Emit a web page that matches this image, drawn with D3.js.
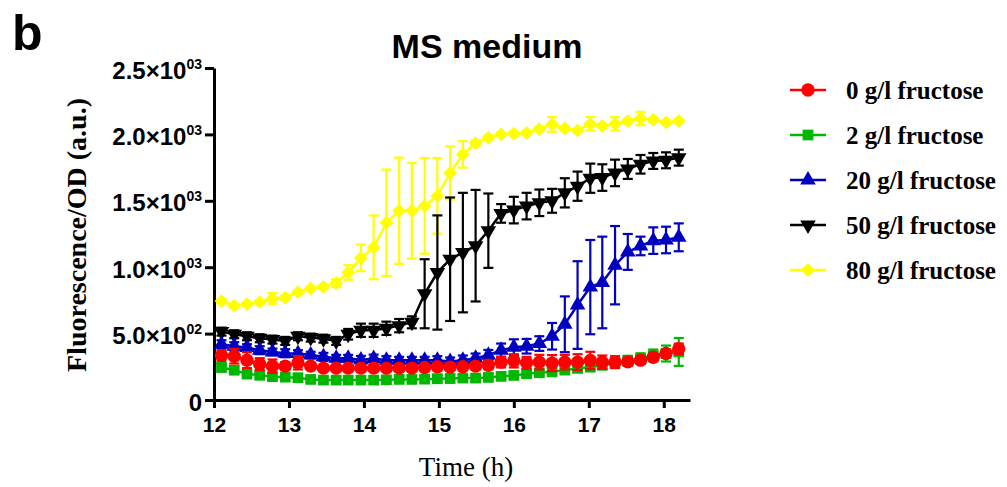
<!DOCTYPE html>
<html>
<head>
<meta charset="utf-8">
<script src="https://cdn.jsdelivr.net/npm/d3@7"></script>
<style>
  body { margin: 0; background: #fff; }
  svg { display: block; }
</style>
</head>
<body>
<div id="chart"></div>
<script>
// time points (h)
let times = [12.10, 12.27, 12.44, 12.61, 12.78, 12.95, 13.12, 13.29, 13.46, 13.63,
  13.79, 13.96, 14.13, 14.30, 14.47, 14.64, 14.81, 14.98, 15.15, 15.32,
  15.49, 15.66, 15.83, 16.00, 16.17, 16.34, 16.51, 16.68, 16.85, 17.02,
  17.18, 17.35, 17.52, 17.69, 17.86, 18.03, 18.20]

// mean fluorescence/OD per fructose level
let fructose0 = [335, 330, 300, 270, 255, 255, 280, 255, 240, 240,
  240, 240, 240, 240, 240, 240, 245, 250, 248, 250,
  255, 262, 285, 295, 280, 285, 278, 285, 285, 298,
  285, 285, 287, 300, 322, 350, 385]
let fructose2 = [245, 225, 195, 187, 176, 172, 168, 155, 150, 150,
  150, 150, 150, 152, 155, 155, 157, 160, 162, 165,
  165, 170, 178, 185, 198, 205, 212, 225, 238, 248,
  262, 277, 298, 312, 335, 350, 362]
let fructose20 = [420, 405, 395, 375, 362, 352, 350, 338, 325, 315,
  315, 302, 312, 300, 300, 300, 300, 300, 290, 300,
  315, 337, 375, 397, 405, 425, 480, 570, 715, 850,
  885, 1015, 1115, 1160, 1200, 1205, 1225]
let fructose50 = [515, 495, 480, 465, 455, 445, 480, 470, 462, 445,
  495, 525, 525, 540, 560, 585, 800, 960, 1060, 1110,
  1162, 1275, 1405, 1430, 1460, 1485, 1500, 1560, 1610, 1670,
  1675, 1710, 1740, 1775, 1800, 1805, 1825]
let fructose80 = [745, 710, 722, 737, 765, 770, 812, 840, 852, 880,
  960, 1070, 1150, 1335, 1425, 1425, 1462, 1537, 1710, 1850,
  1935, 1975, 2000, 2005, 2010, 2040, 2075, 2045, 2030, 2080,
  2065, 2080, 2100, 2120, 2110, 2090, 2100]

// error (+/-)
let err0 = [40, 55, 60, 45, 50, 30, 50, 20, 20, 20,
  20, 20, 20, 20, 20, 20, 25, 25, 20, 20,
  25, 30, 40, 50, 45, 55, 60, 55, 60, 65,
  50, 45, 30, 25, 25, 30, 40]
let err2 = [30, 30, 25, 30, 25, 25, 25, 25, 25, 25,
  25, 25, 25, 25, 25, 25, 25, 30, 30, 25,
  25, 25, 25, 25, 25, 25, 25, 25, 25, 30,
  30, 35, 35, 40, 45, 60, 105]
let err20 = [30, 30, 25, 30, 25, 30, 25, 25, 30, 25,
  25, 30, 30, 30, 25, 25, 25, 30, 30, 35,
  35, 40, 50, 60, 55, 55, 100, 210, 330, 355,
  345, 295, 135, 70, 100, 100, 105]
let err50 = [30, 30, 30, 30, 30, 30, 30, 30, 30, 30,
  40, 50, 50, 50, 50, 45, 260, 430, 465, 450,
  420, 280, 70, 100, 100, 100, 90, 110, 110, 110,
  100, 100, 75, 70, 60, 60, 60]
let err80 = [15, 15, 15, 15, 40, 15, 15, 15, 15, 30,
  55, 100, 240, 400, 400, 360, 360, 285, 200, 100,
  20, 15, 15, 15, 15, 15, 55, 15, 15, 50,
  15, 50, 15, 50, 15, 15, 15]

let seriesNames = ['0 g/l fructose', '2 g/l fructose', '20 g/l fructose', '50 g/l fructose', '80 g/l fructose']
let xTicks = [12, 13, 14, 15, 16, 17, 18]
let yTicks = [0, 500, 1000, 1500, 2000, 2500]

let series = [
  { name: seriesNames[0], values: fructose0, err: err0, color: '#ff0000', shape: 'circle' },
  { name: seriesNames[1], values: fructose2, err: err2, color: '#00b800', shape: 'square' },
  { name: seriesNames[2], values: fructose20, err: err20, color: '#0000c0', shape: 'triangle' },
  { name: seriesNames[3], values: fructose50, err: err50, color: '#000000', shape: 'triangleDown' },
  { name: seriesNames[4], values: fructose80, err: err80, color: '#ffff00', shape: 'diamond' }
]
// drawing order (back to front)
let drawOrder = [4, 3, 2, 1, 0]

let width = 1007
let height = 487
let sans = 'Liberation Sans, Arial, sans-serif'
let serif = 'Liberation Serif, Times New Roman, serif'

let svg = d3
  .select('#chart')
  .append('svg')
  .attr('width', width)
  .attr('height', height)

let xPositionScale = d3.scaleLinear().domain([12, 18.35]).range([214, 690])
let yPositionScale = d3.scaleLinear().domain([0, 2500]).range([400, 68])

function symbolPath(shape) {
  if (shape === 'circle') return d3.symbol(d3.symbolCircle, 140)()
  if (shape === 'square') return d3.symbol(d3.symbolSquare, 115)()
  if (shape === 'diamond') return d3.symbol(d3.symbolSquare, 95)()
  return d3.symbol(d3.symbolTriangle, 105)()
}
function symbolRotate(shape) {
  if (shape === 'diamond') return 45
  if (shape === 'triangleDown') return 180
  return 0
}

// axes
let xAxis = d3
  .axisBottom(xPositionScale)
  .tickValues(xTicks)
  .tickFormat(d3.format('d'))
  .tickSize(8)
  .tickSizeOuter(0)
  .tickPadding(9)
let xAxisG = svg
  .append('g')
  .attr('class', 'axis x-axis')
  .attr('transform', 'translate(0,400)')
  .call(xAxis)

let yAxis = d3.axisLeft(yPositionScale).tickValues(yTicks).tickSize(9).tickSizeOuter(0).tickPadding(3)
let yAxisG = svg
  .append('g')
  .attr('class', 'axis y-axis')
  .attr('transform', 'translate(' + xPositionScale(12) + ',0)')
  .call(yAxis)

svg.selectAll('.axis path, .axis line').attr('stroke', '#000').attr('stroke-width', 3)
svg.selectAll('.axis text')
  .attr('font-family', sans)
  .attr('font-weight', 'bold')
  .attr('font-size', 21)
  .attr('fill', '#000')

yAxisG.selectAll('.tick text').each(function(d) {
  let t = d3.select(this)
  t.text(null).attr('dy', '0.42em').attr('font-size', 24)
  if (d === 0) {
    t.text('0')
    return
  }
  let e = Math.floor(Math.log10(d))
  let m = d / Math.pow(10, e)
  t.append('tspan').text(m.toFixed(1) + '×10')
  t.append('tspan').attr('dy', -10).attr('font-size', 14).text(String(e).padStart(2, '0'))
})

// lines, error bars, markers
let line = d3
  .line()
  .x((d, i) => xPositionScale(times[i]))
  .y(d => yPositionScale(d))

drawOrder.forEach(k => {
  let s = series[k]
  let g = svg.append('g').attr('class', 'series')
  let pts = s.values.map((v, i) => ({ t: times[i], v: v, e: s.err[i] }))

  g.append('path')
    .attr('d', line(s.values))
    .attr('fill', 'none')
    .attr('stroke', s.color)
    .attr('stroke-width', 2.5)

  let bars = g.selectAll('.err').data(pts).enter().append('g').attr('class', 'err')
  bars.append('line')
    .attr('x1', d => xPositionScale(d.t))
    .attr('x2', d => xPositionScale(d.t))
    .attr('y1', d => yPositionScale(d.v - d.e))
    .attr('y2', d => yPositionScale(d.v + d.e))
  bars.append('line')
    .attr('x1', d => xPositionScale(d.t) - 5)
    .attr('x2', d => xPositionScale(d.t) + 5)
    .attr('y1', d => yPositionScale(d.v + d.e))
    .attr('y2', d => yPositionScale(d.v + d.e))
  bars.append('line')
    .attr('x1', d => xPositionScale(d.t) - 5)
    .attr('x2', d => xPositionScale(d.t) + 5)
    .attr('y1', d => yPositionScale(d.v - d.e))
    .attr('y2', d => yPositionScale(d.v - d.e))
  bars.selectAll('line').attr('stroke', s.color).attr('stroke-width', 2.2)

  g.selectAll('.marker')
    .data(pts)
    .enter()
    .append('path')
    .attr('class', 'marker')
    .attr('d', symbolPath(s.shape))
    .attr('transform', d => 'translate(' + xPositionScale(d.t) + ',' + yPositionScale(d.v) + ') rotate(' + symbolRotate(s.shape) + ')')
    .attr('fill', s.color)
})

// titles
svg.append('text')
  .attr('x', 12)
  .attr('y', 50)
  .attr('font-family', sans)
  .attr('font-weight', 'bold')
  .attr('font-size', 50)
  .text('b')

svg.append('text')
  .attr('x', 487)
  .attr('y', 58)
  .attr('text-anchor', 'middle')
  .attr('font-family', sans)
  .attr('font-weight', 'bold')
  .attr('font-size', 34)
  .text('MS medium')

svg.append('text')
  .attr('transform', 'translate(86,235) rotate(-90)')
  .attr('text-anchor', 'middle')
  .attr('font-family', serif)
  .attr('font-weight', 'bold')
  .attr('font-size', 28)
  .text('Fluorescence/OD (a.u.)')

svg.append('text')
  .attr('x', 466)
  .attr('y', 476)
  .attr('text-anchor', 'middle')
  .attr('font-family', serif)
  .attr('font-size', 27)
  .text('Time (h)')

// legend
let legend = svg.append('g').attr('class', 'legend').attr('transform', 'translate(790,90)')
let items = legend
  .selectAll('.item')
  .data(series)
  .enter()
  .append('g')
  .attr('class', 'item')
  .attr('transform', (d, i) => 'translate(0,' + i * 45 + ')')

items.append('line')
  .attr('x1', 0)
  .attr('x2', 36)
  .attr('stroke', d => d.color)
  .attr('stroke-width', 2.5)
items.append('path')
  .attr('d', d => symbolPath(d.shape))
  .attr('transform', d => 'translate(18,0) rotate(' + symbolRotate(d.shape) + ')')
  .attr('fill', d => d.color)
items.append('text')
  .attr('x', 56)
  .attr('dy', '0.35em')
  .attr('font-family', serif)
  .attr('font-weight', 'bold')
  .attr('font-size', 25)
  .text(d => d.name)
</script>
</body>
</html>
